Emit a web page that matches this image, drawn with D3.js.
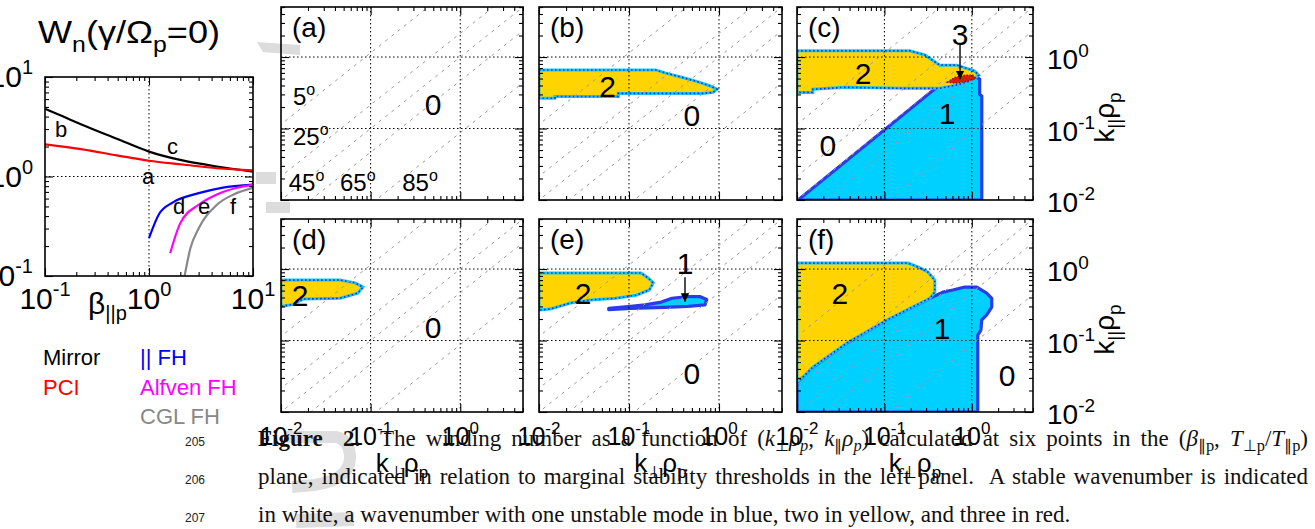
<!DOCTYPE html>
<html><head><meta charset="utf-8">
<script src="https://cdn.jsdelivr.net/npm/d3@7/dist/d3.min.js"></script>
<style>html,body{margin:0;padding:0;background:#fff;overflow:hidden}svg{display:block}text{white-space:pre}</style>
</head><body>
<svg id="fig" width="1315" height="529"></svg>
<script>
const SANS="'Liberation Sans', Arial, Helvetica, sans-serif";
const SERIF="'Liberation Serif', 'Times New Roman', Times, serif";

// ---------- left panel: marginal stability thresholds ----------
const betaMirror=[0.1,0.15,0.23,0.49,1,2.1,4.5,10];
const tMirror   =[4.8,4.0,3.3,2.4,1.78,1.45,1.26,1.12];
const betaPCI   =[0.1,0.23,0.49,1,2.1,4.5,10];
const tPCI      =[2.1,1.87,1.63,1.44,1.32,1.21,1.15];
const betaParFH =[1,1.25,1.7,3,5,10];
const tParFH    =[0.24,0.42,0.55,0.68,0.77,0.83];
const betaAlfFH =[1.6,2,3,4.5,7,10];
const tAlfFH    =[0.17,0.34,0.52,0.66,0.77,0.83];
const betaCGL   =[2.2,2.5,3,4.5,6.5,10];
const tCGL      =[0.1,0.19,0.3,0.52,0.66,0.77];
const curveColors=['#000000','#ff0000','#0000ff','#ff00ff','#888888'];
const legendNames=['Mirror','PCI','|| FH','Alfven FH','CGL FH'];
const pointLetters=['a','b','c','d','e','f'];
const letterBeta=[0.857,0.125,1.49,1.70,2.96,6.0];
const letterT   =[0.84,2.49,1.68,0.42,0.42,0.42];
const leftTicks=[0.1,1,10];
const leftTickExp=['-1','0','1'];

// ---------- winding-number panels ----------
const kDomain=[0.01,5.012];
const kTicks=[0.01,0.1,1];
const kTickExp=['-2','-1','0'];
const angleDeg=[5,25,45,65,85];
const angleLabelKperp=[0.0136,0.0136,0.0122,0.0455,0.225];
const angleLabelKpar =[0.213,0.0587,0.0134,0.0134,0.0134];

const yellowB=[[0.01,0.66],[0.198,0.66],[0.256,0.596],[0.376,0.525],[0.553,0.46],[0.773,0.40],[0.95,0.355],[0.857,0.32],[0.663,0.31],[0.076,0.31],[0.076,0.28],[0.015,0.28],[0.015,0.265],[0.01,0.265]];
const yellowC=[[0.01,1.22],[0.195,1.22],[0.29,1.07],[0.43,0.77],[0.675,0.77],[1.08,0.635],[1.2,0.557],[0.95,0.46],[0.64,0.40],[0.43,0.365],[0.163,0.365],[0.0354,0.377],[0.0152,0.354],[0.0152,0.32],[0.01,0.32]];
const blueC=[[0.0103,0.01],[0.398,0.377],[0.83,0.46],[1.08,0.54],[1.23,0.49],[1.23,0.30],[1.30,0.285],[1.30,0.01]];
const redC=[[0.52,0.445],[0.64,0.52],[0.83,0.557],[1.03,0.557],[1.11,0.50],[0.90,0.46],[0.64,0.43]];
const yellowD=[[0.01,0.70],[0.0456,0.70],[0.067,0.64],[0.082,0.56],[0.072,0.46],[0.0456,0.39],[0.0176,0.38],[0.0136,0.32],[0.01,0.30]];
const yellowE=[[0.01,0.88],[0.136,0.88],[0.163,0.75],[0.186,0.64],[0.168,0.51],[0.12,0.43],[0.0714,0.39],[0.0374,0.37],[0.0223,0.335],[0.0133,0.275],[0.01,0.267]];
const blueE=[[0.0596,0.282],[0.105,0.30],[0.15,0.315],[0.229,0.345],[0.30,0.39],[0.45,0.41],[0.62,0.41],[0.73,0.375],[0.70,0.315],[0.45,0.30],[0.25,0.29],[0.105,0.282],[0.0596,0.27]];
const yellowF=[[0.01,1.21],[0.186,1.21],[0.241,1.07],[0.314,0.91],[0.377,0.70],[0.377,0.476],[0.331,0.39],[0.107,0.194],[0.0373,0.0923],[0.0152,0.0425],[0.01,0.0255]];
const blueF=[[0.01,0.0255],[0.0152,0.0425],[0.0373,0.0923],[0.107,0.194],[0.331,0.39],[0.467,0.476],[0.607,0.51],[0.83,0.56],[1.14,0.56],[1.48,0.46],[1.69,0.39],[1.69,0.294],[1.48,0.228],[1.30,0.194],[1.27,0.14],[1.17,0.119],[1.17,0.01],[0.01,0.01]];

const numsA=[['0',0.497,0.22]];
const numsB=[['2',0.058,0.39],['0',0.50,0.155]];
const numsC=[['2',0.057,0.60],['1',0.52,0.165],['0',0.0226,0.0588],['3',0.733,2.1]];
const numsD=[['2',0.0163,0.433],['0',0.497,0.155]];
const numsE=[['2',0.0308,0.461],['1',0.419,1.21],['0',0.50,0.035]];
const numsF=[['2',0.031,0.461],['1',0.456,0.15],['0',2.53,0.033]];
const arrowC=[[0.733,1.47],[0.733,0.49]];
const arrowE=[[0.419,0.77],[0.419,0.35]];

const panelTags=['(a)','(b)','(c)','(d)','(e)','(f)'];

const captionLines=[
 [['Figure  2.','b'],['  The winding number as a function of (','n'],['k','i'],['⊥','s'],['ρ','i'],['p','si'],[', ','n'],['k','i'],['∥','s'],['ρ','i'],['p','si'],[') calculated at six points in the (','n'],['β','i'],['∥p','s'],[', ','n'],['T','i'],['⊥p','s'],['/','n'],['T','i'],['∥p','s'],[')','n']],
 [['plane, indicated in relation to marginal stability thresholds in the left panel.  A stable wavenumber is indicated','n']],
 [['in white, a wavenumber with one unstable mode in blue, two in yellow, and three in red.','n']]
];
const lineNumbers=['205','206','207'];

// ---------- drawing ----------
const svg=d3.select('#fig');
const defs=svg.append('defs');
defs.append('marker').attr('id','arr').attr('viewBox','0 0 10 10').attr('refX',10).attr('refY',5)
  .attr('markerWidth',6).attr('markerHeight',7).attr('orient','auto')
  .append('path').attr('d','M0,0 L10,5 L0,10 z').attr('fill','#000');

// faint bleed-through of the scanned page
const ghost=svg.append('g').attr('fill','#dcdcdc').attr('stroke','none');
ghost.append('path').attr('d','M257,42 L300,45 L300,55 L263,52 Z');
ghost.append('path').attr('d','M256,172 L276,172 L276,184 L256,184 Z');
ghost.append('path').attr('d','M266,202 L290,202 L290,213 L266,213 Z');
svg.append('path').attr('d','M286,437 L336,437 Q350,440 350,458 Q349,480 314,485 L292,487')
  .attr('fill','none').attr('stroke','#dedede').attr('stroke-width',12);
svg.append('path').attr('d','M296,521 L354,519').attr('fill','none').attr('stroke','#dedede').attr('stroke-width',14);

function isMajor(v){const l=Math.log10(v);return Math.abs(l-Math.round(l))<1e-9;}
function frameAxes(g,x,y,majLen,minLen){
  const [xa,xb]=x.range(), [ya,yb]=y.range();
  const xt=x.ticks(), yt=y.ticks();
  [[xt.filter(isMajor),majLen],[xt.filter(v=>!isMajor(v)),minLen]].forEach(([vals,len])=>{
    g.append('g').attr('transform',`translate(0,${ya})`).call(d3.axisBottom(x).tickValues(vals).tickSize(-len).tickFormat(()=>'')).call(s=>s.select('.domain').remove());
    g.append('g').attr('transform',`translate(0,${yb})`).call(d3.axisTop(x).tickValues(vals).tickSize(-len).tickFormat(()=>'')).call(s=>s.select('.domain').remove());
  });
  [[yt.filter(isMajor),majLen],[yt.filter(v=>!isMajor(v)),minLen]].forEach(([vals,len])=>{
    g.append('g').attr('transform',`translate(${xa},0)`).call(d3.axisLeft(y).tickValues(vals).tickSize(-len).tickFormat(()=>'')).call(s=>s.select('.domain').remove());
    g.append('g').attr('transform',`translate(${xb},0)`).call(d3.axisRight(y).tickValues(vals).tickSize(-len).tickFormat(()=>'')).call(s=>s.select('.domain').remove());
  });
  g.selectAll('.tick line').attr('stroke','#000').attr('stroke-width',1.1);
  g.append('rect').attr('x',xa).attr('y',yb).attr('width',xb-xa).attr('height',ya-yb)
    .attr('fill','none').attr('stroke','#000').attr('stroke-width',1.6);
}
function powLabel(parent,x,y,exp,size,supSize,rise,anchor){
  const t=parent.append('text').attr('x',x).attr('y',y).attr('font-family',SANS)
    .attr('font-size',size).attr('text-anchor',anchor||'middle').attr('fill','#000');
  t.append('tspan').text('10');
  t.append('tspan').attr('font-size',supSize).attr('dy',-rise).text(exp);
  return t;
}
function subText(t,parts,size,subSize,drop){
  let shift=0;
  parts.forEach(([s,isSub])=>{
    const target=isSub?drop:0;
    const ts=t.append('tspan').text(s).attr('dy',target-shift);
    if(isSub) ts.attr('font-size',subSize);
    shift=target;
  });
}

// ===== Left plot =====
const LP={x0:45,x1:253,y0:77,y1:276};
const lx=d3.scaleLog().domain([0.1,10]).range([LP.x0,LP.x1]);
const ly=d3.scaleLog().domain([0.1,10]).range([LP.y1,LP.y0]);
const gl=svg.append('g');
defs.append('clipPath').attr('id','clipL').append('rect')
  .attr('x',LP.x0).attr('y',LP.y0).attr('width',LP.x1-LP.x0).attr('height',LP.y1-LP.y0);
gl.append('line').attr('x1',lx(1)).attr('x2',lx(1)).attr('y1',LP.y0).attr('y2',LP.y1)
  .attr('stroke','#000').attr('stroke-width',1).attr('stroke-dasharray','1.5,2.5');
gl.append('line').attr('x1',LP.x0).attr('x2',LP.x1).attr('y1',ly(1)).attr('y2',ly(1))
  .attr('stroke','#000').attr('stroke-width',1).attr('stroke-dasharray','1.5,2.5');
const curves=[[betaMirror,tMirror],[betaPCI,tPCI],[betaParFH,tParFH],[betaAlfFH,tAlfFH],[betaCGL,tCGL]];
const lineL=d3.line().x(d=>lx(d[0])).y(d=>ly(d[1])).curve(d3.curveMonotoneX);
const gc=gl.append('g').attr('clip-path','url(#clipL)');
curves.forEach(([b,t],i)=>{
  gc.append('path').attr('d',lineL(b.map((v,j)=>[v,t[j]]))).attr('fill','none')
    .attr('stroke',curveColors[i]).attr('stroke-width',2.2);
});
frameAxes(gl,lx,ly,8,4);
pointLetters.forEach((s,i)=>{
  gl.append('text').attr('x',lx(letterBeta[i])).attr('y',ly(letterT[i])).attr('font-family',SANS)
    .attr('font-size',22).attr('fill','#000').text(s);
});
leftTicks.forEach((v,i)=>{
  powLabel(gl,lx(v),309,leftTickExp[i],30,20,13,'middle');
  powLabel(gl,33,ly(v)+10,leftTickExp[i],30,20,13,'end');
});
{
  const t=gl.append('text').attr('x',88).attr('y',314).attr('font-family',SANS).attr('font-size',30);
  subText(t,[['β',false],['||p',true]],30,20,6);
}
{
  const t=gl.append('text').attr('x',38).attr('y',43).attr('font-family',SANS).attr('font-size',32)
    .attr('textLength',182).attr('lengthAdjust','spacingAndGlyphs');
  subText(t,[['W',false],['n',true],['(γ/Ω',false],['p',true],['=0)',false]],32,22,9);
}
legendNames.forEach((s,i)=>{
  const col=i<2?0:1, row=i<2?i:i-2;
  gl.append('text').attr('x',col?140:43).attr('y',365+row*29.5).attr('font-family',SANS)
    .attr('font-size',22).attr('fill',curveColors[i]).text(s);
});

// ===== Winding-number panels =====
const colX=[[281,523],[539,782],[797,1033]];
const rowY=[[7,200],[219,412]];
const panelData=[
 {c:0,r:0,blue:[],yellow:[],red:[],nums:numsA,arrow:null,angleLabels:true},
 {c:1,r:0,blue:[],yellow:[yellowB],red:[],nums:numsB,arrow:null},
 {c:2,r:0,blue:[blueC],yellow:[yellowC],red:[redC],nums:numsC,arrow:arrowC},
 {c:0,r:1,blue:[],yellow:[yellowD],red:[],nums:numsD,arrow:null},
 {c:1,r:1,blue:[blueE],yellow:[yellowE],red:[],nums:numsE,arrow:arrowE},
 {c:2,r:1,blue:[blueF],yellow:[yellowF],red:[],nums:numsF,arrow:null}
];
panelData.forEach((p,i)=>{
  const [xa,xb]=colX[p.c], [yt,yb]=rowY[p.r];
  const x=d3.scaleLog().domain(kDomain).range([xa,xb]);
  const y=d3.scaleLog().domain(kDomain).range([yb,yt]);
  const g=svg.append('g');
  defs.append('clipPath').attr('id','clipP'+i).append('rect').attr('x',xa).attr('y',yt).attr('width',xb-xa).attr('height',yb-yt);
  const gi=g.append('g').attr('clip-path',`url(#clipP${i})`);
  const poly=d3.line().x(d=>x(d[0])).y(d=>y(d[1]));
  p.blue.forEach(d=>{
    gi.append('path').attr('d',poly(d)+'Z').attr('fill','#00d0ff').attr('stroke','#2a3ce8').attr('stroke-width',3.2).attr('stroke-linejoin','round');
  });
  p.yellow.forEach(d=>{
    gi.append('path').attr('d',poly(d)+'Z').attr('fill','#ffd400').attr('stroke','#1fc6f5').attr('stroke-width',3);
    gi.append('path').attr('d',poly(d)+'Z').attr('fill','none').attr('stroke','#1a2fd0').attr('stroke-width',1.6).attr('stroke-dasharray','1.6,2.4');
  });
  p.red.forEach(d=>{
    gi.append('path').attr('d',poly(d)+'Z').attr('fill','#d42000').attr('stroke','#8a1000').attr('stroke-width',1.2).attr('stroke-dasharray','1.5,1.5');
  });
  kTicks.slice(1).forEach(v=>{
    gi.append('line').attr('x1',x(v)).attr('x2',x(v)).attr('y1',yt).attr('y2',yb)
      .attr('stroke','#000').attr('stroke-width',1).attr('stroke-dasharray','1.5,2.5');
    gi.append('line').attr('x1',xa).attr('x2',xb).attr('y1',y(v)).attr('y2',y(v))
      .attr('stroke','#000').attr('stroke-width',1).attr('stroke-dasharray','1.5,2.5');
  });
  angleDeg.forEach(a=>{
    const tn=Math.tan(a*Math.PI/180);
    const pts=[1e-3,1e2].map(k=>[k,k/tn]);
    gi.append('path').attr('d',poly(pts)).attr('fill','none').attr('stroke','#9a9a9a')
      .attr('stroke-width',1).attr('stroke-dasharray','3,5');
  });
  frameAxes(g,x,y,8,4);
  g.append('text').attr('x',xa+11).attr('y',yt+30).attr('font-family',SANS).attr('font-size',28).text(panelTags[i]);
  p.nums.forEach(([s,kx,ky])=>{
    g.append('text').attr('x',x(kx)).attr('y',y(ky)).attr('dy','0.36em').attr('text-anchor','middle')
      .attr('font-family',SANS).attr('font-size',30).text(s);
  });
  if(p.arrow){
    g.append('line').attr('x1',x(p.arrow[0][0])).attr('y1',y(p.arrow[0][1]))
      .attr('x2',x(p.arrow[1][0])).attr('y2',y(p.arrow[1][1]))
      .attr('stroke','#000').attr('stroke-width',1.4).attr('marker-end','url(#arr)');
  }
  if(p.angleLabels){
    angleDeg.forEach((a,j)=>{
      const t=g.append('text').attr('x',x(angleLabelKperp[j])).attr('y',y(angleLabelKpar[j]))
        .attr('font-family',SANS).attr('font-size',24);
      t.append('tspan').text(String(a));
      t.append('tspan').attr('font-size',16).attr('dy',-10).text('o');
    });
  }
  if(p.r===1){
    kTicks.forEach((v,j)=>powLabel(g,x(v),445,kTickExp[j],25,17,11,'middle'));
    const t=g.append('text').attr('x',(xa+xb)/2).attr('y',472).attr('text-anchor','middle')
      .attr('font-family',SANS).attr('font-size',26);
    subText(t,[['k',false],['⊥',true],['ρ',false],['p',true]],26,17,6);
  }
  if(p.c===2){
    kTicks.forEach((v,j)=>powLabel(g,1047,y(v)+12,kTickExp[j],28,19,12,'start'));
    const cy=y(0.1)-11;
    const t=g.append('text').attr('transform',`translate(1114,${cy}) rotate(-90)`).attr('text-anchor','middle')
      .attr('font-family',SANS).attr('font-size',28);
    subText(t,[['k',false],['||',true],['ρ',false],['p',true]],28,19,7);
  }
});

// ===== Caption (justified with word spacing) =====
const capBase=[446,484,522];
const capLen=[1050,1050,null];
const capNodes=captionLines.map((segs,i)=>{
  svg.append('text').attr('x',185).attr('y',capBase[i]).attr('font-family',SANS).attr('font-size',12)
    .attr('fill','#222').text(lineNumbers[i]);
  const t=svg.append('text').attr('x',258).attr('y',capBase[i]).attr('font-family',SERIF)
    .attr('font-size',21).attr('fill','#111');
  let shift=0;
  segs.forEach(([s,st])=>{
    const sub=st==='s'||st==='si';
    const target=sub?5:0;
    const ts=t.append('tspan').text(s).attr('dy',target-shift);
    shift=target;
    if(sub) ts.attr('font-size',15);
    if(st==='b') ts.attr('font-weight','bold');
    if(st==='i'||st==='si') ts.attr('font-style','italic');
  });
  return t;
});
// font chosen so the second line is nearly full width with modest word spacing
const nat2=capNodes[1].node().getComputedTextLength();
const fs=Math.min(23, 21*1015/nat2);
capNodes.forEach((t,i)=>{
  t.attr('font-size',fs);
  t.selectAll('tspan').each(function(){ if(this.getAttribute('font-size')) this.setAttribute('font-size',fs*15/21); });
  if(capLen[i]){
    const nat=t.node().getComputedTextLength();
    const spaces=(t.text().match(/ /g)||[]).length;
    if(spaces>0 && nat<capLen[i]) t.attr('word-spacing',(capLen[i]-nat)/spaces);
    else if(nat>capLen[i]) t.attr('textLength',capLen[i]).attr('lengthAdjust','spacingAndGlyphs');
  }
});
</script>
</body></html>
